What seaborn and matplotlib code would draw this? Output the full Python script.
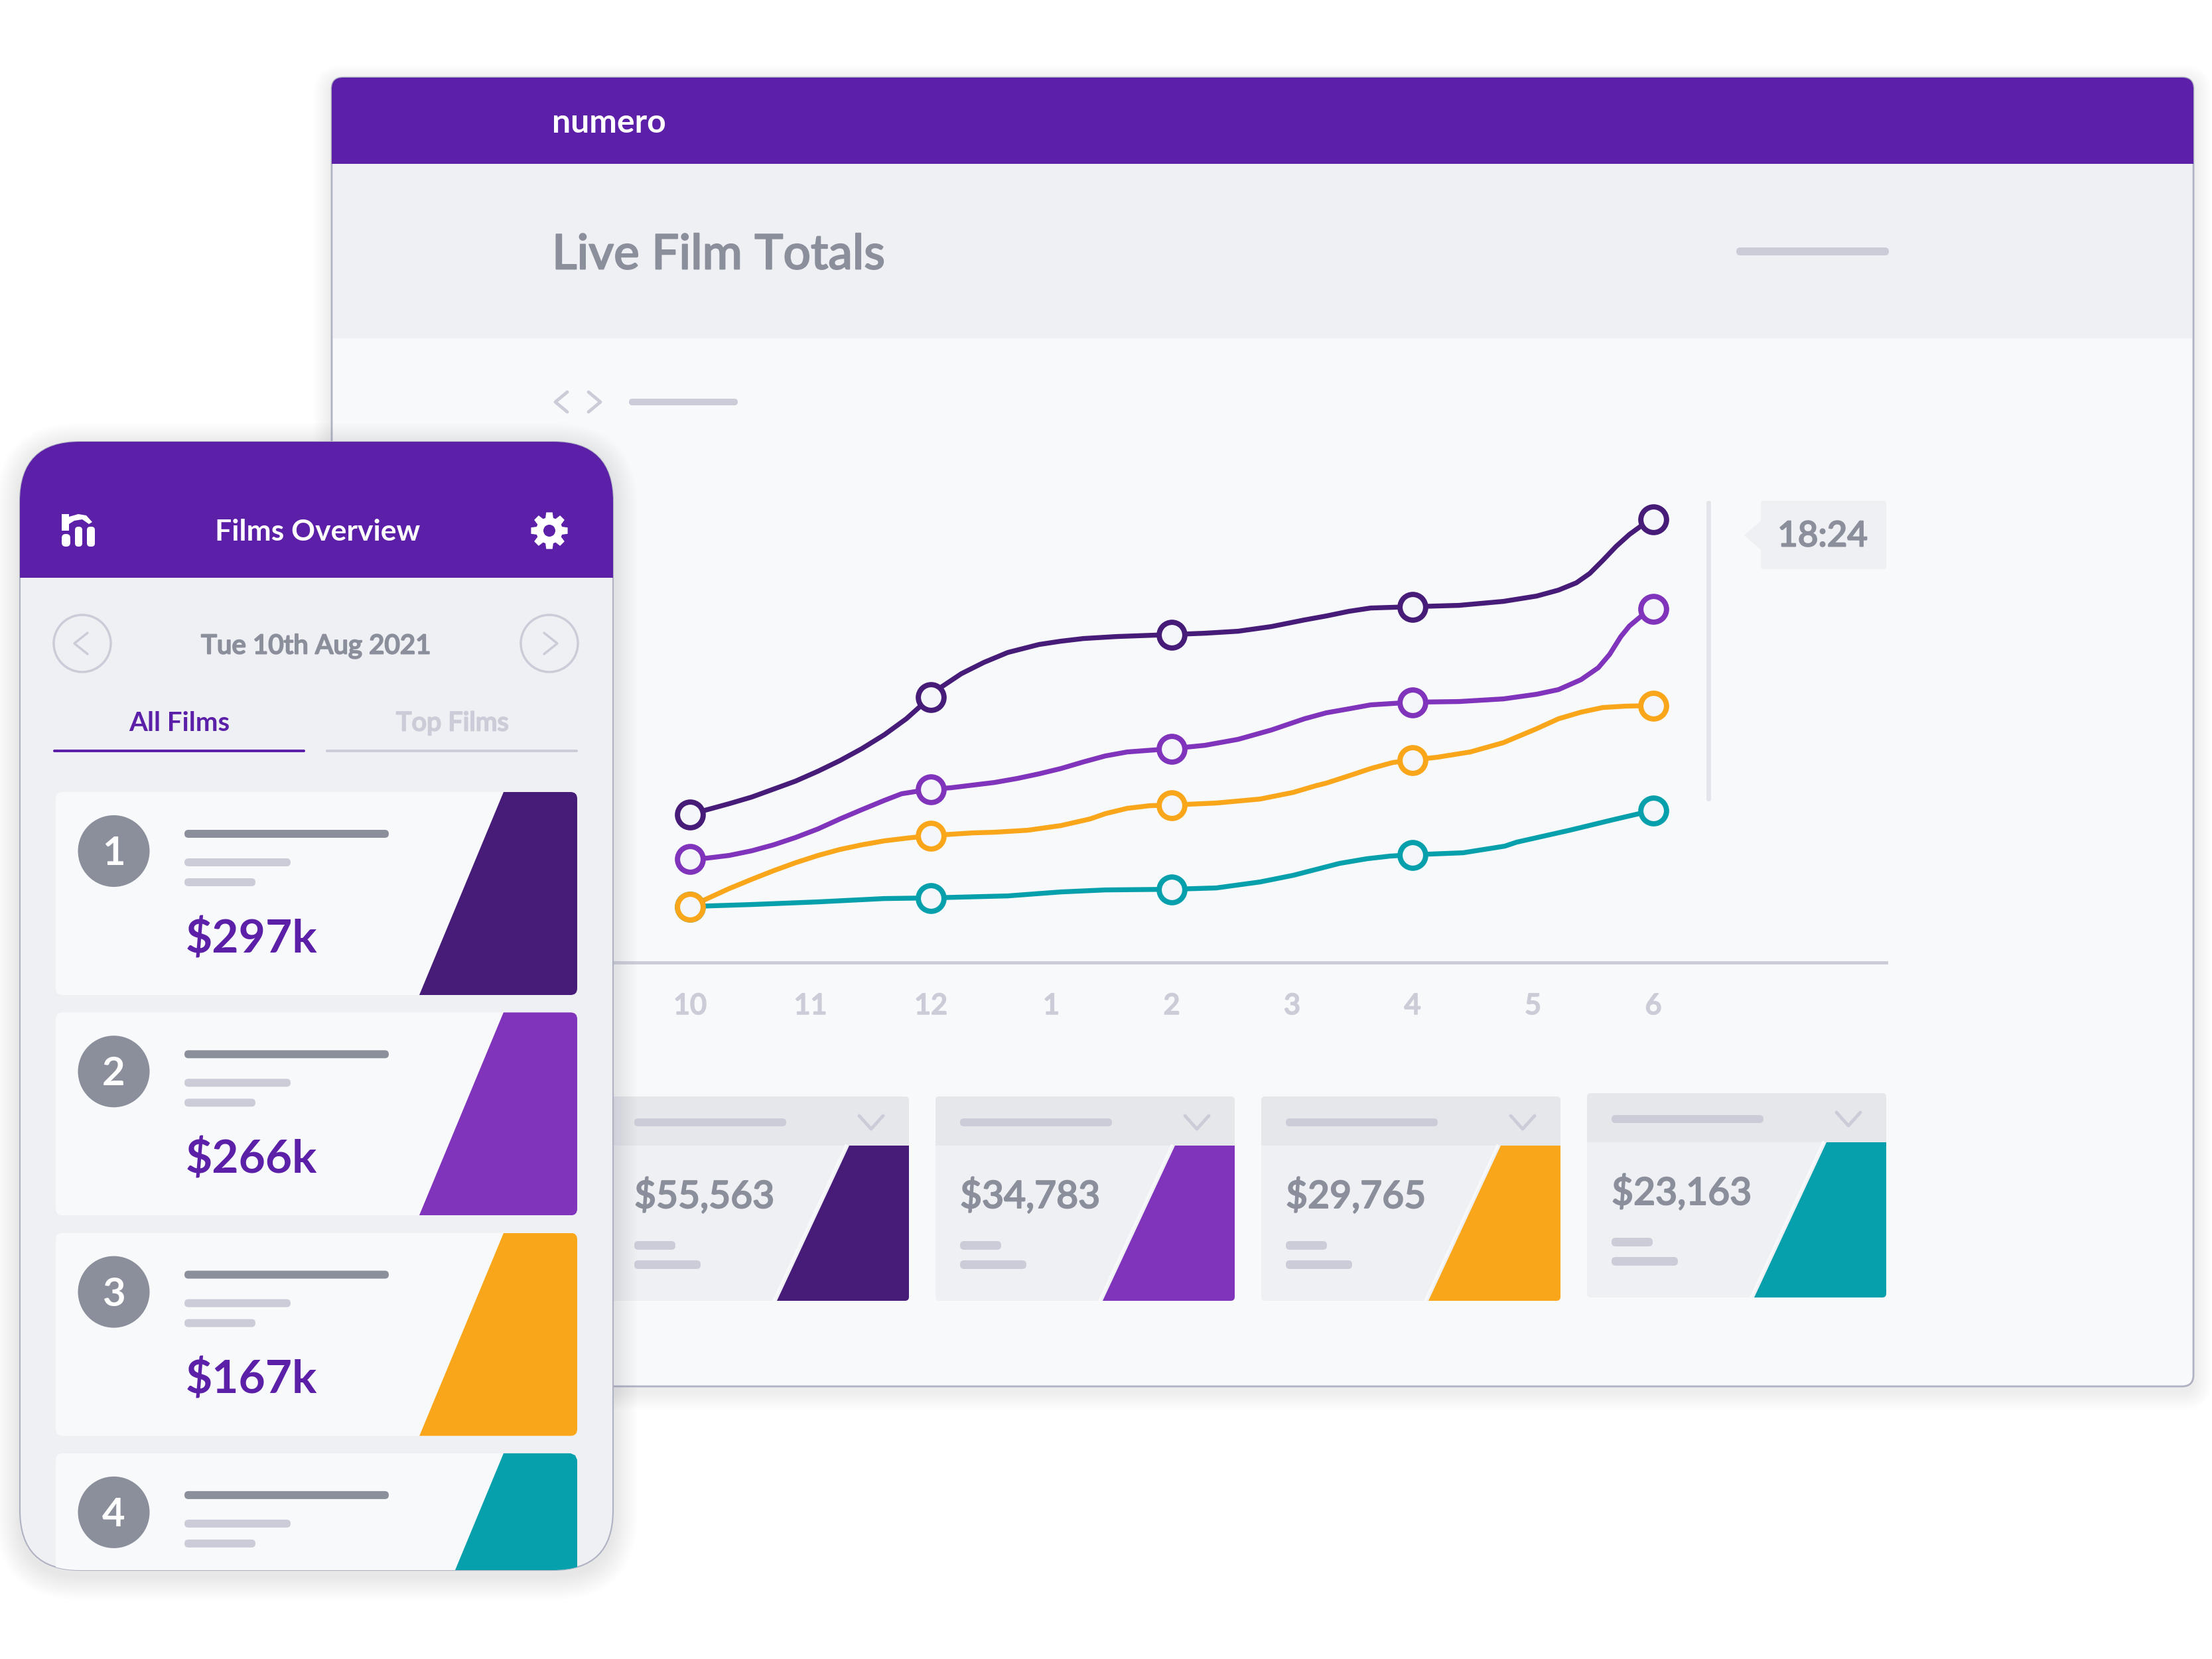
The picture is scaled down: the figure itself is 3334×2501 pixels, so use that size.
import pandas as pd
import matplotlib.pyplot as plt
import matplotlib.patheffects as pe
import seaborn as sns
import numpy as np
from matplotlib.patches import Circle, FancyBboxPatch, Polygon, Rectangle
import warnings
warnings.filterwarnings('ignore')

# フォントの設定
plt.rcParams['font.family'] = ['Lato', 'DejaVu Sans']

# 折れ線のデータ（先頭の目盛りからの距離と基線からの高さ）
hour_labels = ['10', '11', '12', '1', '2', '3', '4', '5', '6']
marker_offsets = [0, 363, 726, 1089, 1452]
dark_offsets = [0, 26, 59, 93, 126, 159, 193, 226, 259, 293, 326, 363, 379, 409, 443, 479, 526, 559, 593, 643, 726, 776, 826, 876, 926, 959, 993, 1026, 1089, 1159, 1226, 1276, 1309, 1336, 1356, 1376, 1396, 1416, 1434, 1452]
dark_values = [223, 230, 239, 249, 261, 273, 288, 304, 322, 343, 367, 400, 415, 435, 452, 467, 479, 484, 488, 491, 494, 496, 499, 506, 516, 522, 529, 534, 536, 538, 544, 552, 561, 572, 586, 606, 627, 645, 658, 668]
violet_offsets = [0, 26, 59, 93, 126, 159, 193, 226, 259, 293, 319, 363, 393, 426, 459, 493, 526, 559, 593, 626, 659, 726, 776, 826, 876, 926, 959, 993, 1026, 1089, 1159, 1226, 1276, 1309, 1343, 1369, 1386, 1403, 1416, 1434, 1452]
violet_values = [156, 157, 161, 168, 177, 188, 201, 216, 230, 244, 254, 261, 263, 267, 271, 277, 284, 292, 302, 311, 317, 322, 327, 336, 350, 367, 376, 382, 388, 392, 393, 397, 404, 411, 426, 444, 464, 491, 507, 522, 533]
orange_offsets = [0, 59, 93, 126, 159, 193, 226, 259, 293, 326, 363, 426, 459, 509, 559, 603, 626, 659, 693, 726, 793, 859, 909, 943, 959, 993, 1026, 1059, 1089, 1126, 1176, 1226, 1276, 1309, 1343, 1376, 1409, 1452]
orange_values = [84, 111, 125, 138, 150, 161, 170, 177, 183, 187, 191, 195, 196, 199, 206, 216, 224, 232, 236, 237, 240, 246, 256, 266, 270, 281, 292, 301, 305, 309, 317, 331, 352, 367, 377, 384, 386, 387]
teal_offsets = [0, 93, 193, 293, 363, 479, 559, 626, 726, 793, 859, 909, 979, 1020, 1055, 1089, 1165, 1228, 1246, 1326, 1392, 1452]
teal_values = [84, 87, 91, 96, 97, 100, 106, 109, 110, 112, 121, 131, 149, 156, 160, 162, 165, 175, 181, 199, 215, 229]

# カードのデータ
film_totals = ['$297k', '$266k', '$167k', '']
card_totals = ['$55,563', '$34,783', '$29,765', '$23,163']
card_lefts = [919, 1410, 1901, 2392]
card_tops = [1653, 1653, 1653, 1648]

# 色の設定
PURPLE = '#5c20a8'
DARK = '#471c78'
VIOLET = '#8033bb'
ORANGE = '#f9a61b'
TEAL = '#06a0ad'
BODY = '#f8f9fb'
PANEL = '#eff0f4'
PILL = '#cbccd8'
GREY = '#8a8f9b'
EDGE = '#aeb2c2'


class DashboardChart:
    def __init__(self):
        """データを縦長の表に整理"""
        frames = []
        for name, offsets, values in [('dark', dark_offsets, dark_values),
                                      ('violet', violet_offsets, violet_values),
                                      ('teal', teal_offsets, teal_values),
                                      ('orange', orange_offsets, orange_values)]:
            frames.append(pd.DataFrame({'series': name, 'offset': offsets, 'value': values}))
        self.df = pd.concat(frames, ignore_index=True)
        self.df['tick'] = self.df['offset'] / 181.5
        self.palette = {'dark': DARK, 'violet': VIOLET, 'teal': TEAL, 'orange': ORANGE}
        print(f"データを読み込みました: {len(self.df)} 行")

        self.fig = plt.figure(figsize=(33.34, 25.01), dpi=100)
        self.back = self.create_canvas(0)
        self.front = self.create_canvas(3)

    def create_canvas(self, zorder):
        """ピクセル座標のキャンバスを作成"""
        ax = self.fig.add_axes([0, 0, 1, 1], zorder=zorder)
        ax.set_xlim(0, 3334)
        ax.set_ylim(2501, 0)
        ax.axis('off')
        return ax

    def box(self, ax, x0, y0, x1, y1, r, color, **kwargs):
        """角丸の四角形を描画"""
        patch = FancyBboxPatch((x0, y0), x1 - x0, y1 - y0, boxstyle=f'round,pad=0,rounding_size={r}',
                               facecolor=color, edgecolor=kwargs.pop('edgecolor', 'none'), **kwargs)
        ax.add_patch(patch)
        return patch

    def shadow(self, ax, x0, y0, x1, y1, r, spread):
        """ぼかした影を重ねて描画"""
        for i in range(spread, 0, -3):
            self.box(ax, x0 - i, y0 - i + 8, x1 + i, y1 + i + 8, r + i, '#4a4d60', alpha=0.007)

    def side_chevron(self, ax, cx, cy, dx, dy, color, lw):
        """横向きの山形を描画"""
        ax.plot([cx + dx, cx - dx, cx + dx], [cy - dy, cy, cy + dy],
                color=color, lw=lw, solid_capstyle='round', solid_joinstyle='round')

    def draw_window(self):
        """背面のウィンドウを描画"""
        ax = self.back
        self.shadow(ax, 500, 117, 3306, 2090, 17, 27)

        window = self.box(ax, 500, 117, 3306, 2090, 17, BODY, edgecolor=EDGE, linewidth=2)
        header = ax.add_patch(Rectangle((500, 117), 2806, 130, color=PURPLE, lw=0))
        header.set_clip_path(window)
        ax.add_patch(Rectangle((502, 247), 2802, 263, color=PANEL, lw=0))

        ax.text(832, 185, 'numero', color='white', fontsize=36, fontweight='bold', ha='left', va='center')
        ax.text(832, 385, 'Live Film Totals', color=GREY, fontsize=52.5, fontweight='medium', ha='left', va='center')
        self.box(ax, 2617, 373, 2847, 385, 6, PILL)

        self.side_chevron(ax, 846, 606, 9, 15, PILL, 3.5)
        self.side_chevron(ax, 896, 606, -9, 15, PILL, 3.5)
        self.box(ax, 948, 601, 1112, 611, 5, PILL)

        # 現在時刻の線と吹き出し
        self.box(ax, 2572, 755, 2579, 1208, 3, '#e4e5ea')
        ax.add_patch(Polygon([(2654, 785), (2629, 807), (2654, 829)], color=PANEL, lw=0))
        self.box(ax, 2654, 755, 2843, 858, 4, PANEL)
        ax.text(2747, 809, '18:24', color=GREY, fontsize=38, fontweight='medium', ha='center', va='center')

    def draw_chart(self):
        """折れ線グラフの作成"""
        ax = self.fig.add_axes([925 / 3334, 1 - 1450.6 / 2501, (2843 - 925) / 3334, 750.6 / 2501], zorder=1)
        ax.patch.set_alpha(0)

        sns.lineplot(data=self.df, x='tick', y='value', hue='series', palette=self.palette,
                     hue_order=['dark', 'violet', 'teal', 'orange'], sort=False, errorbar=None,
                     legend=False, linewidth=5.3, ax=ax)
        # 丸印
        for name in ['dark', 'violet', 'teal', 'orange']:
            sub = self.df[(self.df['series'] == name) & (self.df['offset'].isin(marker_offsets))]
            sns.scatterplot(data=sub, x='tick', y='value', color='#f5f6fa', edgecolor=self.palette[name],
                            linewidth=5.7, s=778, legend=False, zorder=5, ax=ax)

        ax.set_xlim((925 - 1040) / 181.5, (2843 - 1040) / 181.5)
        ax.set_ylim(0, 750.6)
        ax.set_xticks(range(len(hour_labels)))
        ax.set_xticklabels(hour_labels, fontsize=31, fontweight='medium', color=PILL)
        ax.set_yticks([])
        ax.set_xlabel('')
        ax.set_ylabel('')
        ax.tick_params(axis='x', length=0, pad=34)
        sns.despine(ax=ax, left=True)
        ax.spines['bottom'].set_color(PILL)
        ax.spines['bottom'].set_linewidth(3.5)

    def draw_cards(self):
        """下段の集計カードを描画"""
        ax = self.back
        colors = [DARK, VIOLET, ORANGE, TEAL]
        for x0, y0, total, color in zip(card_lefts, card_tops, card_totals, colors):
            card = self.box(ax, x0, y0, x0 + 451, y0 + 308, 6, PANEL, zorder=2)
            head = ax.add_patch(Rectangle((x0, y0), 451, 74, color='#e6e7eb', lw=0, zorder=2.1))
            head.set_clip_path(card)
            quad = ax.add_patch(Polygon([(x0 + 361, y0 + 74), (x0 + 451, y0 + 74), (x0 + 451, y0 + 308), (x0 + 252, y0 + 308)],
                                        color=color, lw=0, zorder=2.2))
            quad.set_clip_path(card)
            ax.plot([x0 + 356, x0 + 247], [y0 + 74, y0 + 308], color=BODY, lw=2.5, zorder=2.2)
            self.box(ax, x0 + 37, y0 + 33, x0 + 266, y0 + 45, 6, PILL, zorder=2.3)
            ax.plot([x0 + 376, x0 + 394, x0 + 412], [y0 + 29, y0 + 49, y0 + 29], color=PILL, lw=3.5, zorder=2.3,
                    solid_capstyle='round', solid_joinstyle='round')
            ax.text(x0 + 37, y0 + 150, total, color=GREY, fontsize=41, fontweight='medium', ha='left', va='center', zorder=2.3)
            self.box(ax, x0 + 37, y0 + 218, x0 + 99, y0 + 231, 6, PILL, zorder=2.3)
            self.box(ax, x0 + 37, y0 + 247, x0 + 137, y0 + 260, 6, PILL, zorder=2.3)

    def draw_gear(self, ax, cx, cy):
        """歯車のアイコンを描画"""
        points = []
        for k in range(8):
            base = k * np.pi / 4
            for offset, radius in [(-.30, 20), (-.17, 28), (.17, 28), (.30, 20)]:
                points.append((cx + radius * np.cos(base + offset), cy + radius * np.sin(base + offset)))
        ax.add_patch(Polygon(points, color='white', lw=0))
        ax.add_patch(Circle((cx, cy), 9, color=PURPLE, lw=0))

    def draw_phone(self):
        """前面のスマートフォン画面を描画"""
        ax = self.front
        self.shadow(ax, 30, 666, 924, 2367, 90, 36)
        phone = self.box(ax, 30, 666, 924, 2367, 90, PANEL, edgecolor=EDGE, linewidth=1.5)
        head = ax.add_patch(Rectangle((30, 666), 894, 205, color=PURPLE, lw=0))
        head.set_clip_path(phone)

        # ロゴ
        ax.add_patch(Polygon([(93, 775), (104, 775), (104, 779), (118, 775), (130, 777), (139, 787), (134, 790),
                              (124, 783), (112, 785), (104, 790), (104, 800), (93, 800)], color='white', lw=0))
        self.box(ax, 93, 805, 106, 824, 6, 'white')
        self.box(ax, 113, 794, 124, 824, 5, 'white')
        self.box(ax, 131, 794, 143, 824, 5, 'white')
        self.draw_gear(ax, 828, 800)

        ax.text(479, 802, 'Films Overview', color='white', fontsize=32, fontweight='bold', ha='center', va='center')

        # 日付の切り替え
        for cx in [124, 828]:
            ax.add_patch(Circle((cx, 970), 43, facecolor='none', edgecolor=PILL, linewidth=2.5))
        self.side_chevron(ax, 122, 970, 10, 16, PILL, 2.5)
        self.side_chevron(ax, 830, 970, -10, 16, PILL, 2.5)
        ax.text(476, 974, 'Tue 10th Aug 2021', color=GREY, fontsize=29, fontweight='medium', ha='center', va='center')

        # タブ
        ax.text(270, 1090, 'All Films', color=PURPLE, fontsize=29, fontweight='bold', ha='center', va='center')
        ax.text(682, 1090, 'Top Films', color=PILL, fontsize=28.5, fontweight='medium', ha='center', va='center')
        self.box(ax, 80, 1130, 460, 1134, 2, PURPLE)
        self.box(ax, 491, 1130, 871, 1134, 2, PILL)

        # 順位カード
        colors = [DARK, VIOLET, ORANGE, TEAL]
        for i, (color, total) in enumerate(zip(colors, film_totals)):
            top = 1194 + 332.3 * i
            if i < 3:
                card = self.box(ax, 84, top, 870, top + 306, 10, BODY)
                quad = ax.add_patch(Polygon([(759, top), (870, top), (870, top + 306), (632, top + 306)], color=color, lw=0))
                quad.set_clip_path(card)
            else:
                # 4枚目は画面の下端で切れる
                card = self.box(ax, 84, top, 870, 2500, 10, BODY)
                card.set_clip_path(phone)
                quad = ax.add_patch(Polygon([(759, top), (860, top), (867, top + 3), (870, top + 10), (870, 2367), (686, 2367)],
                                            color=color, lw=0))
                quad.set_clip_path(phone)
            ax.add_patch(Circle((171.5, top + 89), 54, color=GREY, lw=0))
            ax.text(171.5, top + 93, str(i + 1), color='white', fontsize=43, fontweight='bold', ha='center', va='center')
            self.box(ax, 278, top + 57, 586, top + 69, 6, GREY)
            self.box(ax, 278, top + 100, 438, top + 112, 6, PILL)
            self.box(ax, 278, top + 130, 385, top + 142, 6, PILL)
            if total:
                ax.text(280, top + 222, total, color=PURPLE, fontsize=50, fontweight='bold', ha='left', va='center')

    def thicken_text(self):
        """中太の文字を縁取りで太くする"""
        for ax in self.fig.axes:
            for text in ax.texts + list(ax.get_xticklabels()):
                if text.get_fontweight() == 'medium':
                    text.set_path_effects([pe.withStroke(linewidth=1.4, foreground=text.get_color())])

    def save(self):
        """画像の保存"""
        self.fig.savefig('out.png', dpi=100, facecolor='white')
        print("グラフを 'out.png' として保存しました。")


def main():
    """メイン関数"""
    chart = DashboardChart()
    chart.draw_window()
    chart.draw_cards()
    chart.draw_chart()
    chart.draw_phone()
    chart.thicken_text()
    chart.save()


if __name__ == '__main__':
    main()
